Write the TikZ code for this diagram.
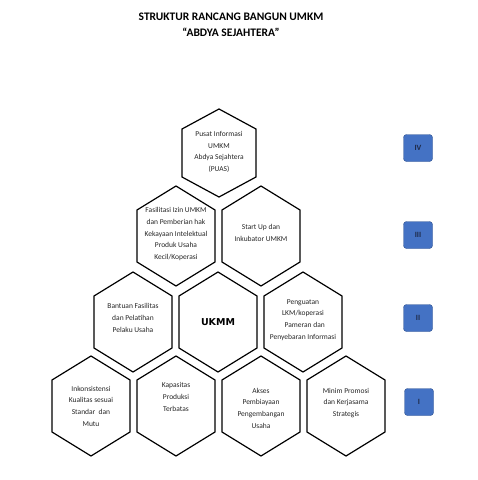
\documentclass[tikz,border=0pt]{standalone}
\usepackage{fontspec}
\setmainfont{Carlito}
\newfontfamily\ukmmfont{DejaVu Sans}
\usepackage{tikz}
\usetikzlibrary{positioning}
\definecolor{levelblue}{HTML}{4472C4}
\definecolor{leveledge}{HTML}{2F528F}
\definecolor{leveltext}{HTML}{1F2A48}

\begin{document}
\begin{tikzpicture}[x=1pt, y=-1pt,
    hexline/.style={line width=1.2pt, line join=miter},
    hextext/.style={align=center, font=\fontsize{7.5}{11.7}\selectfont, text=black!85},
    levelbox/.style={draw=leveledge, fill=levelblue, rounded corners=3pt,
        minimum width=29pt, minimum height=27pt, inner sep=0pt,
        font=\bfseries\fontsize{8}{9}\selectfont, text=leveltext}]
    \useasboundingbox (0,0) rectangle (478,480);

    % Title
    \node[align=center, font=\bfseries\fontsize{11.5}{16}\selectfont] (title) at (231,25)
        {STRUKTUR RANCANG BANGUN UMKM\\“ABDYA SEJAHTERA”};

    % Hexagons
    \foreach \cx/\cy in {91/406, 176/406, 261/406, 346/406,
                         133/322, 218/322, 303/322,
                         176/236, 261/236}
        \draw[hexline, shift={(\cx,\cy)}] (0,-50) -- (39,-26) -- (39,26) -- (0,50)
            -- (-39,26) -- (-39,-26) -- cycle;
    \draw[hexline, shift={(219,153)}] (0,-44) -- (37,-24) -- (37,24) -- (0,44)
        -- (-37,24) -- (-37,-24) -- cycle;

    % Level IV
    \node[hextext] (puas) at (219,152) {Pusat Informasi\\UMKM\\Abdya Sejahtera\\(PUAS)};

    % Level III
    \node[hextext] (fasilitasi) at (176,234)
        {Fasilitasi Izin UMKM\\dan Pemberian hak\\Kekayaan Intelektual\\Produk Usaha\\Kecil/Koperasi};
    \node[hextext] (startup) at (261,233) {Start Up dan\\Inkubator UMKM};

    % Level II
    \node[hextext] (bantuan) at (133,318) {Bantuan Fasilitas\\dan Pelatihan\\Pelaku Usaha};
    \node[font=\ukmmfont\bfseries\fontsize{9.5}{12}\selectfont] (ukmm) at (218,322) {UKMM};
    \node[hextext] (penguatan) at (303,320)
        {Penguatan\\LKM/koperasi\\\ \ Pameran dan\\Penyebaran Informasi};

    % Level I
    \node[hextext] (inkonsistensi) at (91,406) {Inkonsistensi\\Kualitas sesuai\\Standar\ \ dan\\Mutu};
    \node[hextext] (kapasitas) at (176,397) {Kapasitas\\Produksi\\Terbatas};
    \node[hextext] (akses) at (261,408) {Akses\\Pembiayaan\\Pengembangan\\Usaha};
    \node[hextext] (promosi) at (346,403) {Minim Promosi\\dan Kerjasama\\Strategis};

    % Level markers
    \node[levelbox] (lvIV) at (418,148) {IV};
    \node[levelbox] (lvIII) at (418,235) {III};
    \node[levelbox] (lvII) at (418,318) {II};
    \node[levelbox] (lvI) at (419,402) {I};
\end{tikzpicture}
\end{document}
